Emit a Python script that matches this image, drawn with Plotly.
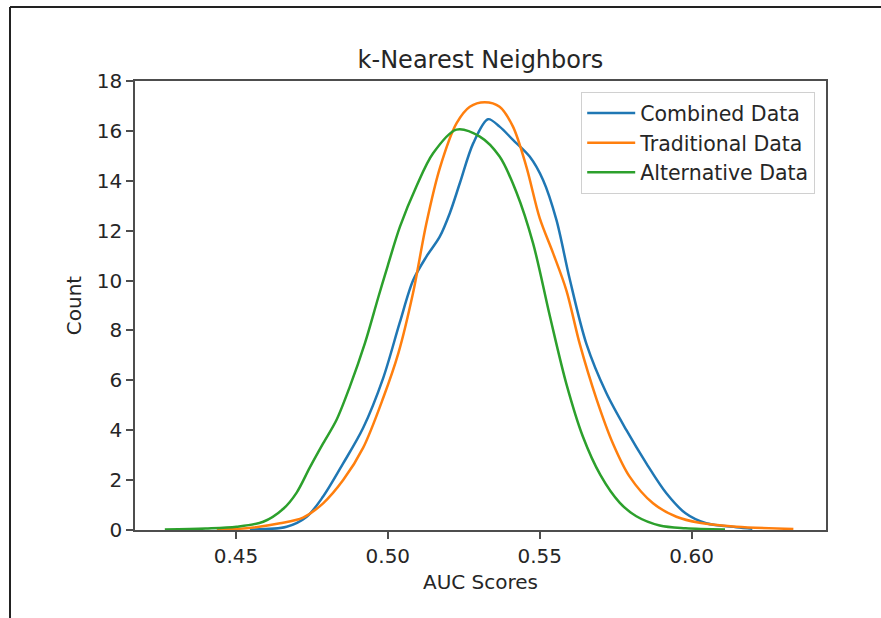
import plotly.graph_objects as go

# ---- data (KDE curves of AUC scores) ----
combined_x = [0.4546, 0.4667, 0.4733, 0.4787, 0.4853, 0.4919, 0.4985, 0.5039, 0.5083, 0.5127,
              0.5171, 0.5204, 0.5237, 0.5281, 0.5330, 0.5368, 0.5412, 0.5467, 0.5511, 0.5555,
              0.5598, 0.5654, 0.5719, 0.5785, 0.5851, 0.5917, 0.5980, 0.6048, 0.6147, 0.6200]
combined_y = [0.02, 0.13, 0.53, 1.34, 2.67, 4.1, 6.1, 8.3, 10.0, 10.96,
              11.76, 12.70, 13.90, 15.50, 16.47, 16.17, 15.64, 14.97, 14.03, 12.43,
              10.1, 7.45, 5.5, 4.01, 2.67, 1.47, 0.67, 0.27, 0.11, 0.05]

traditional_x = [0.4437, 0.4535, 0.4645, 0.4721, 0.4787, 0.4853, 0.4919, 0.4985, 0.5035, 0.5083,
                 0.5127, 0.5171, 0.5226, 0.5270, 0.5319, 0.5368, 0.5412, 0.5456, 0.5500, 0.5544,
                 0.5588, 0.5632, 0.5687, 0.5741, 0.5796, 0.5873, 0.5950, 0.6026, 0.6147, 0.6335]
traditional_y = [0.02, 0.07, 0.27, 0.50, 1.07, 2.0, 3.3, 5.3, 7.1, 9.5,
                 12.3, 14.5, 16.3, 16.97, 17.15, 16.97, 16.17, 14.57, 12.5, 11.1,
                 9.6, 7.45, 5.25, 3.47, 2.14, 1.07, 0.53, 0.29, 0.13, 0.04]

alternative_x = [0.4266, 0.4400, 0.4502, 0.4590, 0.4656, 0.4700, 0.4743, 0.4787, 0.4831, 0.4875,
                 0.4925, 0.4968, 0.5000, 0.5040, 0.5094, 0.5149, 0.5226, 0.5303, 0.5368, 0.5423,
                 0.5478, 0.5533, 0.5588, 0.5642, 0.5700, 0.5763, 0.5818, 0.5895, 0.5980, 0.6110]
alternative_y = [0.02, 0.06, 0.13, 0.33, 0.85, 1.5, 2.5, 3.47, 4.41, 5.75,
                 7.5, 9.3, 10.6, 12.16, 13.77, 15.10, 16.05, 15.77, 14.97, 13.55,
                 11.5, 8.6, 5.85, 3.75, 2.2, 1.1, 0.55, 0.18, 0.07, 0.02]

series_names = ["Combined Data", "Traditional Data", "Alternative Data"]
series_colors = ["#1f77b4", "#ff7f0e", "#2ca02c"]

x_ticks = [0.45, 0.50, 0.55, 0.60]
y_ticks = [0, 2, 4, 6, 8, 10, 12, 14, 16, 18]

FONT = "DejaVu Sans"
TXT = "#262626"
AX = "#4d4d4d"

fig = go.Figure()
for name, color, xs, ys in zip(series_names, series_colors,
                               [combined_x, traditional_x, alternative_x],
                               [combined_y, traditional_y, alternative_y]):
    fig.add_trace(go.Scatter(x=xs, y=ys, mode="lines", name=name,
                             line=dict(color=color, width=2.5, shape="spline", smoothing=0.9)))

W, H = 881, 618
L, R, T, B = 135, 55, 81, 88
pw, ph = W - L - R, H - T - B

def px_to_paper_x(px):
    return (px - L) / pw

def px_to_paper_y(py):
    return (H - B - py) / ph

fig.update_layout(
    width=W, height=H,
    margin=dict(l=L, r=R, t=T, b=B, pad=0),
    paper_bgcolor="white", plot_bgcolor="white",
    font=dict(family=FONT, size=20, color=TXT),
    title=dict(text="k-Nearest Neighbors", x=0.5, xref="paper", xanchor="center",
               y=1 - 60 / H, yanchor="middle", font=dict(size=24, color=TXT)),
    showlegend=True,
    legend=dict(x=px_to_paper_x(815), y=px_to_paper_y(92), xanchor="right", yanchor="top",
                bgcolor="white", bordercolor="#d0d0d0", borderwidth=1.2,
                font=dict(size=20.5, color=TXT), itemwidth=48, tracegroupgap=0),
    xaxis=dict(range=[0.41678, 0.64424], tickvals=x_ticks, tickformat=".2f",
               showgrid=False, zeroline=False, showline=True, mirror=True,
               linecolor=AX, linewidth=1.5, ticks="outside", ticklen=7, tickwidth=1.5,
               tickcolor=AX, tickfont=dict(size=20, color=TXT),
               title=dict(text="AUC Scores", font=dict(size=20, color=TXT), standoff=8)),
    yaxis=dict(range=[0, 18], tickvals=y_ticks,
               showgrid=False, zeroline=False, showline=True, mirror=True,
               linecolor=AX, linewidth=1.5, ticks="outside", ticklen=7, tickwidth=1.5,
               tickcolor=AX, tickfont=dict(size=20, color=TXT),
               title=dict(text="Count", font=dict(size=20, color=TXT), standoff=10)),
)

# outer frame lines of the screenshot (top and left edges)
frame_color = "#222222"
fig.add_shape(type="line", xref="paper", yref="paper",
              x0=px_to_paper_x(10), x1=px_to_paper_x(881), y0=px_to_paper_y(7), y1=px_to_paper_y(7),
              line=dict(color=frame_color, width=2))
fig.add_shape(type="line", xref="paper", yref="paper",
              x0=px_to_paper_x(10), x1=px_to_paper_x(10), y0=px_to_paper_y(7), y1=px_to_paper_y(618),
              line=dict(color=frame_color, width=2))

fig.write_html("out.html")
